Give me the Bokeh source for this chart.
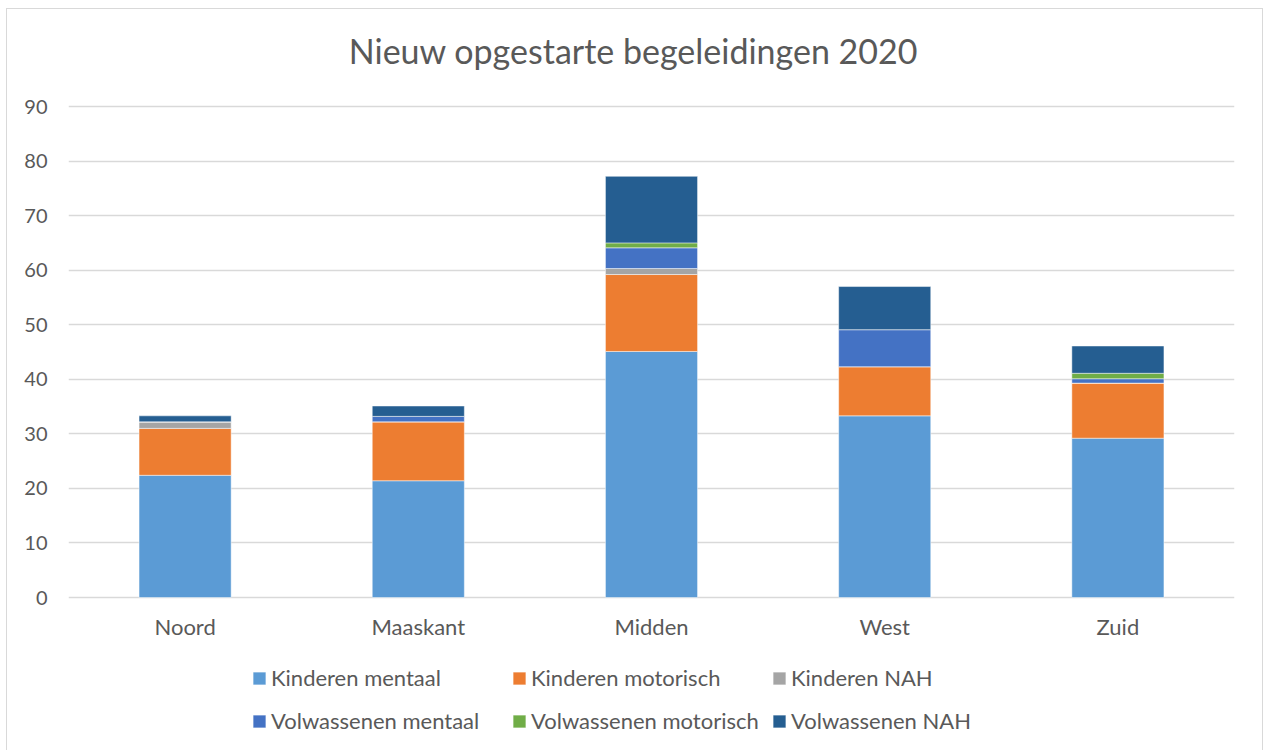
from bokeh.plotting import figure
from bokeh.models import ColumnDataSource, Range1d, Legend, LegendItem
from bokeh.embed import file_html
from bokeh.resources import INLINE

title_text = "Nieuw opgestarte begeleidingen 2020"
categories = ["Noord", "Maaskant", "Midden", "West", "Zuid"]
series_names = ["Kinderen mentaal", "Kinderen motorisch", "Kinderen NAH",
                "Volwassenen mentaal", "Volwassenen motorisch", "Volwassenen NAH"]
kinderen_mentaal = [22.4, 21.4, 45.1, 33.3, 29.2]
kinderen_motorisch = [8.6, 10.8, 14.1, 9.0, 10.1]
kinderen_nah = [1.2, 0.0, 1.1, 0.0, 0.0]
volwassenen_mentaal = [0.0, 1.0, 3.8, 6.8, 0.8]
volwassenen_motorisch = [0.0, 0.0, 0.9, 0.0, 1.0]
volwassenen_nah = [1.1, 1.9, 12.2, 7.9, 5.0]
colors = ["#5B9BD5", "#ED7D31", "#A5A5A5", "#4472C4", "#70AD47", "#255E91"]
y_ticks = [0, 10, 20, 30, 40, 50, 60, 70, 80, 90]

FONT = "Lato"
TXT = "#595959"

keys = ["km", "kmo", "kn", "vm", "vmo", "vn"]
data = dict(cat=categories, km=kinderen_mentaal, kmo=kinderen_motorisch, kn=kinderen_nah,
            vm=volwassenen_mentaal, vmo=volwassenen_motorisch, vn=volwassenen_nah,
            base=[0] * len(categories))
source = ColumnDataSource(data)

# frame covers the whole canvas height; 90 units span 491 px
PX_PER_UNIT = 491 / 90
FRAME_H = 741
TOP_PAD_PX = 97
y_end = 90 + TOP_PAD_PX / PX_PER_UNIT
y_start = y_end - FRAME_H / PX_PER_UNIT

p = figure(x_range=categories, y_range=Range1d(y_start, y_end),
           frame_width=1166, frame_height=FRAME_H,
           output_backend="svg", toolbar_location=None,
           x_axis_location=None,
           min_border_left=61, min_border_right=28, min_border_top=0, min_border_bottom=0)

renderers = p.vbar_stack(keys, x="cat", width=0.395, color=colors, source=source,
                         line_color="white", line_width=0.8, line_alpha=0.6)

# category labels under the baseline
p.text(x="cat", y="base", text="cat", source=source, text_align="center",
       text_baseline="top", y_offset=15, text_font_size="22px", text_color=TXT,
       text_font={"value": FONT})

# chart title, centred near the middle category
title_src = ColumnDataSource(dict(x=[categories[len(categories) // 2]], y=[y_end], t=[title_text]))
p.text(x="x", y="y", text="t", source=title_src, text_align="center", text_baseline="top",
       x_offset=-18, y_offset=20, text_font_size="34px", text_color=TXT,
       text_font={"value": FONT})

p.outline_line_color = None
p.xgrid.grid_line_color = None
p.ygrid.grid_line_color = "#d9d9d9"
p.ygrid.grid_line_width = 1.3
p.ygrid.ticker = y_ticks
p.yaxis.ticker = y_ticks
p.yaxis.axis_line_color = None
p.yaxis.major_tick_line_color = None
p.yaxis.minor_tick_line_color = None
p.yaxis.major_label_text_font = FONT
p.yaxis.major_label_text_font_size = "20px"
p.yaxis.major_label_text_color = TXT
p.yaxis.major_label_standoff = 15
p.x_range.range_padding = 0.0

legend_cols = [(0, 3, 183), (1, 4, 443), (2, 5, 703)]
for i_top, i_bot, x_px in legend_cols:
    items = [LegendItem(label=series_names[i], renderers=[renderers[i]]) for i in (i_top, i_bot)]
    lg = Legend(items=items, orientation="vertical", location=(x_px, 16),
                label_text_font=FONT, label_text_font_size="22px", label_text_color=TXT,
                glyph_width=16, glyph_height=16, label_standoff=4, spacing=16,
                padding=0, margin=0, border_line_color=None, background_fill_alpha=0)
    p.add_layout(lg, "center")

p.styles = {"border-top": "1px solid #d9d9d9", "border-left": "1px solid #d9d9d9",
            "border-right": "1px solid #d9d9d9", "margin-left": "6px", "margin-top": "8px"}

open("out.html", "w").write(file_html(p, INLINE))
